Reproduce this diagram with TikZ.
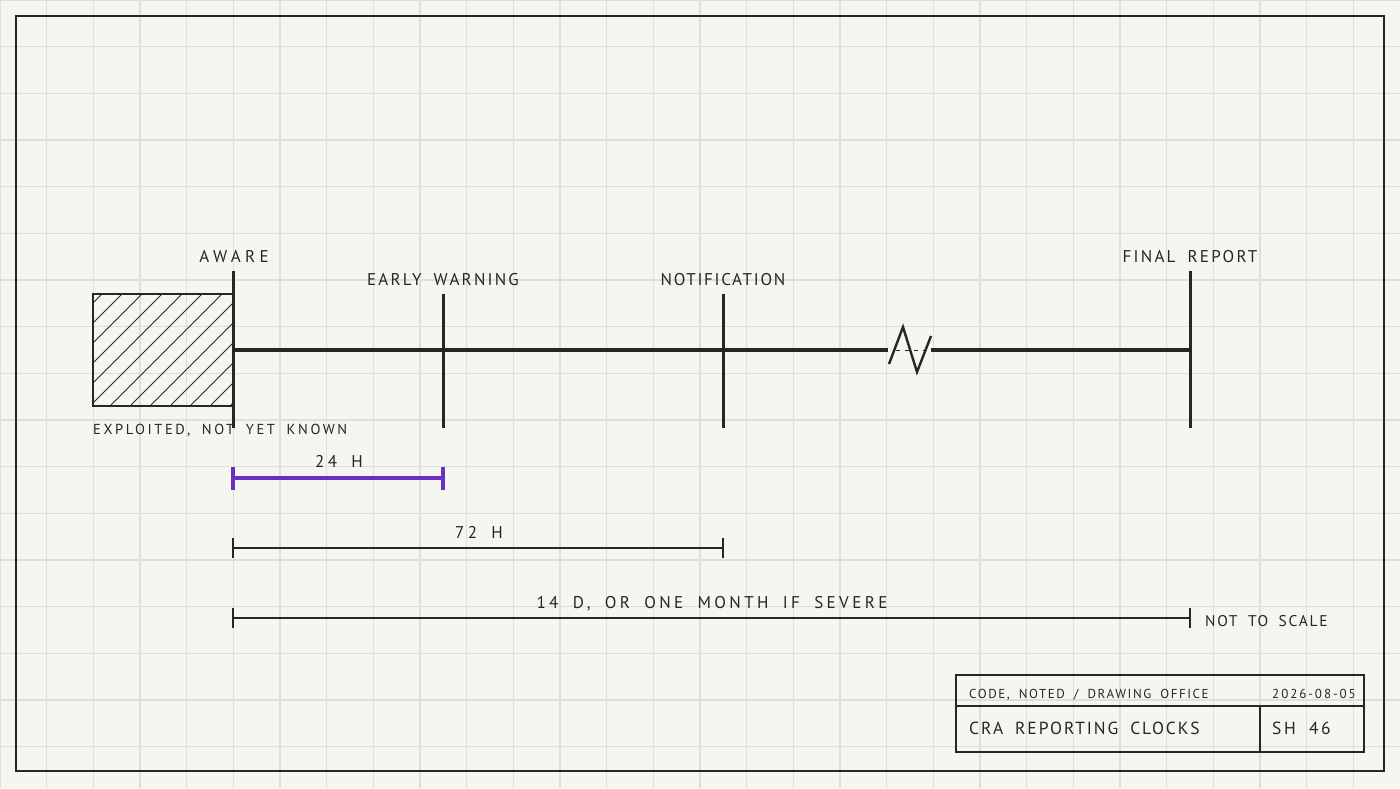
\documentclass[tikz,border=0pt]{standalone}
\usepackage{fontspec}
\setmainfont{PT Sans}[LetterSpace=15, WordSpace=1.8]
\usetikzlibrary{calc}
\usetikzlibrary{positioning}

\definecolor{paper}{HTML}{F6F6F1}
\definecolor{gridc}{HTML}{DFDED8}
\definecolor{ink}{HTML}{262622}
\definecolor{clock}{HTML}{6A2FC4}

\newcommand\tracking[1]{\addfontfeatures{LetterSpace=#1}}

\tikzset{
  frameline/.style={draw=ink, line width=2.6pt},
  axisline/.style={draw=ink, line width=3.2pt},
  milestone/.style={draw=ink, line width=3pt},
  hatch/.style={draw=ink, line width=0.9pt},
  dimline/.style={draw=ink, line width=1.8pt},
  clockline/.style={draw=clock, line width=4.5pt},
}

\begin{document}
\begin{tikzpicture}[x=1pt, y=-1pt,
    heading/.style={text=ink, inner sep=0pt, anchor=base, font=\fontsize{17}{20}\selectfont},
    note/.style={text=ink, inner sep=0pt, anchor=base west, font=\fontsize{15.5}{18}\selectfont},
    tiny/.style={text=ink, inner sep=0pt, font=\fontsize{13}{16}\selectfont}]
  \useasboundingbox (0,0) rectangle (1400,788);

  % paper, grid, frame
  \fill[paper] (0,0) rectangle (1400,788);
  \draw[gridc, line width=1.2pt, step=46.667pt] (0,0) grid (1400,788);
  \draw[frameline] (16,16) rectangle (1384,771);

  % milestones on the time line
  \coordinate (aware) at (233,350);
  \coordinate (early) at (443,350);
  \coordinate (notif) at (723,350);
  \coordinate (final) at (1190,350);
  \coordinate (brkL) at (888,350);
  \coordinate (brkR) at (931,350);

  % exploited, not yet known
  \begin{scope}
    \clip (93,294) rectangle (233,406);
    \foreach \k in {0,...,12}
      \draw[hatch] ({-10+20*\k},406) -- ++(112,-112);
  \end{scope}
  \draw[draw=ink, line width=2.4pt] (93,294) rectangle (aware |- 0,406);

  \draw[axisline] (aware) -- (brkL);
  \draw[axisline] (brkR) -- (final);
  \draw[ink, line width=1pt, dash pattern=on 4pt off 5pt] (896,350) -- (925,350);
  \draw[ink, line width=2.4pt] (889,364) -- (903,327) -- (917,372) -- (931,336);

  \draw[milestone] ($(aware)+(0,-79)$) -- ($(aware)+(0,78)$);
  \draw[milestone] ($(early)+(0,-56)$) -- ($(early)+(0,78)$);
  \draw[milestone] ($(notif)+(0,-56)$) -- ($(notif)+(0,78)$);
  \draw[milestone] ($(final)+(0,-79)$) -- ($(final)+(0,78)$);

  \node[heading] (awareLbl) at (234,262) {\tracking{25}AWARE};
  \node[heading] (earlyLbl) at (443,285) {\tracking{13}EARLY WARNING};
  \node[heading] (notifLbl) at (723,285) {\tracking{10}NOTIFICATION};
  \node[heading] (finalLbl) at (1190,262) {\tracking{13}FINAL REPORT};
  \node[note, font=\fontsize{14.5}{17}\selectfont] (exploitLbl) at (93,434) {\tracking{18}EXPLOITED, NOT YET KNOWN};

  % reporting clocks
  \coordinate (c24a) at (233,478);
  \coordinate (c24b) at (443,478);
  \coordinate (c72a) at (233,548);
  \coordinate (c72b) at (723,548);
  \coordinate (c14a) at (233,618);
  \coordinate (c14b) at (1190,618);

  \draw[clockline] (c24a) -- (c24b);
  \draw[clockline, line width=4pt] ($(c24a)+(0,-11.5)$) -- ($(c24a)+(0,11.5)$);
  \draw[clockline, line width=4pt] ($(c24b)+(0,-11.5)$) -- ($(c24b)+(0,11.5)$);
  \draw[dimline] (c72a) -- (c72b);
  \draw[dimline] ($(c72a)+(0,-10)$) -- ($(c72a)+(0,10)$);
  \draw[dimline] ($(c72b)+(0,-10)$) -- ($(c72b)+(0,10)$);
  \draw[dimline] (c14a) -- (c14b);
  \draw[dimline] ($(c14a)+(0,-10)$) -- ($(c14a)+(0,10)$);
  \draw[dimline] ($(c14b)+(0,-10)$) -- ($(c14b)+(0,10)$);

  \node[heading] (c24Lbl) at (339,467) {\tracking{20}24 H};
  \node[heading] (c72Lbl) at (479,538) {\tracking{20}72 H};
  \node[heading] (c14Lbl) at (712,608) {\tracking{20}14 D, OR ONE MONTH IF SEVERE};
  \node[note] (scaleLbl) at (1205,626) {\tracking{11}NOT TO SCALE};

  % title block
  \draw[frameline] (956,675) rectangle (1364,752);
  \draw[frameline] (956,706) -- (1364,706);
  \draw[frameline] (1260,706) -- (1260,752);
  \node[tiny, anchor=base west] (officeLbl) at (969,698) {\tracking{12}CODE, NOTED / DRAWING OFFICE};
  \node[tiny, anchor=base east] (dateLbl) at (1356,698) {2026-08-05};
  \node[note, font=\fontsize{17.5}{20}\selectfont] (titleLbl) at (969,734) {\tracking{11}CRA REPORTING CLOCKS};
  \node[note, font=\fontsize{17.5}{20}\selectfont] (sheetLbl) at (1272,734) {SH 46};
\end{tikzpicture}
\end{document}
